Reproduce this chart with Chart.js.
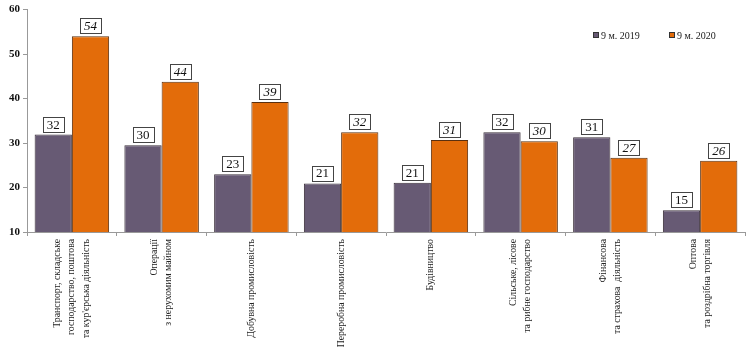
<!DOCTYPE html>
<html>
<head>
<meta charset="utf-8">
<script src="https://cdn.jsdelivr.net/npm/chart.js@4/dist/chart.umd.min.js"></script>
<style>
html,body{margin:0;padding:0;background:#fff;}
#wrap{width:750px;height:352px;position:relative;}
</style>
</head>
<body>
<div id="wrap"><canvas id="c"></canvas></div>
<script>
const categories = [
  ["Транспорт, складське", "господарство, поштова", "та кур'єрська діяльність"],
  ["Операції", "з нерухомим майном"],
  "Добувна промисловість",
  "Переробна промисловість",
  "Будівництво",
  ["Сільське, лісове", "та рибне господарство"],
  ["Фінансова", "та страхова  діяльність"],
  ["Оптова", "та роздрібна торгівля"]
];
const seriesNames = ["9 м. 2019", "9 м. 2020"];
const values2019 = [31.9, 29.5, 23.0, 20.9, 21.1, 32.4, 31.3, 14.9];
const values2020 = [54.0, 43.8, 39.2, 32.4, 30.7, 30.4, 26.7, 26.0];
const yTicks = [10, 20, 30, 40, 50, 60];

const SERIF = "'Liberation Serif', 'DejaVu Serif', serif";
const X_FONT_SIZE = 9.8;
const X_LINE_HEIGHT = 1.45;

const valueBoxes = {
  id: 'valueBoxes',
  afterDatasetsDraw(chart) {
    const ctx = chart.ctx;
    chart.data.datasets.forEach((ds, di) => {
      const meta = chart.getDatasetMeta(di);
      meta.data.forEach((el, i) => {
        const txt = String(Math.round(ds.data[i]));
        ctx.save();
        ctx.font = (di === 1 ? 'italic ' : '') + '13px ' + SERIF;
        const w = ctx.measureText(txt).width + 8;
        const h = 15;
        const x = el.x - w / 2;
        const y = el.y - 3 - h;
        ctx.fillStyle = '#fff';
        ctx.fillRect(x, y, w, h);
        ctx.strokeStyle = '#444';
        ctx.lineWidth = 1;
        ctx.strokeRect(Math.round(x) + 0.5, Math.round(y) + 0.5, Math.round(w), Math.round(h));
        ctx.fillStyle = '#111';
        ctx.textAlign = 'center';
        ctx.textBaseline = 'middle';
        ctx.fillText(txt, el.x, y + h / 2 + 1);
        ctx.restore();
      });
    });
  }
};

const customLegend = {
  id: 'customLegend',
  afterDraw(chart) {
    const ctx = chart.ctx;
    const ca = chart.chartArea;
    const starts = [ca.right - 152, ca.right - 76];
    const yc = 35;
    chart.data.datasets.forEach((ds, di) => {
      ctx.save();
      const x0 = starts[di];
      ctx.fillStyle = ds.backgroundColor;
      ctx.fillRect(x0, yc - 3, 6, 6);
      ctx.strokeStyle = '#333';
      ctx.lineWidth = 1;
      ctx.strokeRect(x0 + 0.5, yc - 2.5, 5, 5);
      ctx.fillStyle = '#222';
      ctx.font = '10px ' + SERIF;
      ctx.textAlign = 'left';
      ctx.textBaseline = 'middle';
      ctx.fillText(ds.label, x0 + 8, yc + 1);
      ctx.restore();
    });
  }
};

new Chart(document.getElementById('c'), {
  type: 'bar',
  data: {
    labels: categories,
    datasets: [
      { label: seriesNames[0], data: values2019, backgroundColor: '#675a74', borderColor: '#3a2f3a', borderWidth: 1 },
      { label: seriesNames[1], data: values2020, backgroundColor: '#e36c0a', borderColor: '#5a3010', borderWidth: 1 }
    ]
  },
  options: {
    responsive: true,
    maintainAspectRatio: false,
    animation: false,
    layout: { padding: { left: 6, right: 5, top: 2, bottom: 0 } },
    datasets: { bar: { categoryPercentage: 0.83, barPercentage: 1.0 } },
    plugins: { legend: { display: false }, tooltip: { enabled: false } },
    scales: {
      x: {
        grid: { display: true, drawOnChartArea: false, color: '#999', tickLength: 4, offset: true },
        border: { color: '#999' },
        ticks: {
          minRotation: 90, maxRotation: 90, autoSkip: false,
          color: '#222', font: { family: SERIF, size: X_FONT_SIZE, lineHeight: X_LINE_HEIGHT }, padding: 3
        },
        afterFit(scale) { scale.height = 120; },
        afterUpdate(scale) {
          if (scale._centerPatched) return;
          scale._centerPatched = true;
          const orig = scale._computeLabelItems.bind(scale);
          scale._computeLabelItems = function (ca) {
            const items = orig(ca);
            const lh = X_FONT_SIZE * X_LINE_HEIGHT;
            items.forEach(it => {
              const n = Array.isArray(it.label) ? it.label.length : 1;
              it.options.translation[0] -= (n - 1) * lh / 2;
            });
            return items;
          };
        }
      },
      y: {
        min: 10, max: 60,
        afterBuildTicks(scale) { scale.ticks = yTicks.map(v => ({ value: v })); },
        grid: { display: true, drawOnChartArea: false, color: '#999', tickLength: 4 },
        border: { color: '#999' },
        ticks: { color: '#111', font: { family: SERIF, size: 11, weight: 'bold' }, padding: 3 }
      }
    }
  },
  plugins: [valueBoxes, customLegend]
});
</script>
</body>
</html>
